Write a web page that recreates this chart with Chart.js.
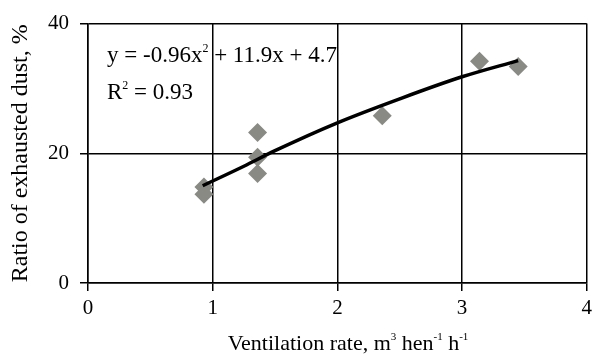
<!DOCTYPE html>
<html>
<head>
<meta charset="utf-8">
<script src="https://cdn.jsdelivr.net/npm/chart.js@4.4.0/dist/chart.umd.min.js"></script>
<style>
    html, body { margin: 0; padding: 0; background: #fff; }
    #wrap { width: 597px; height: 356px; }
</style>
</head>
<body>
<div id="wrap"><canvas id="dustChart"></canvas></div>
<script>
// measured points
const ventRate = [0.93, 0.93, 1.36, 1.36, 1.36, 2.36, 3.14, 3.45];
const dustRatio = [14.8, 13.7, 23.2, 19.4, 16.9, 25.8, 34.2, 33.4];

// trend line
const fitRate = [0.92, 1.25, 1.5, 2.0, 2.5, 3.0, 3.45];
const fitRatio = [15.0, 18.0, 20.4, 24.7, 28.4, 31.8, 34.3];

const xTickValues = [0, 1, 2, 3, 4];
const yTickValues = [0, 20, 40];

const equationParts = [['y = -0.96x', false], ['2', true], [' + 11.9x + 4.7', false]];
const rSquaredParts = [['R', false], ['2', true], [' = 0.93', false]];
const xTitleParts = [['Ventilation rate, m', false], ['3', true], [' hen', false], ['-1', true], [' h', false], ['-1', true]];
const yTitle = 'Ratio of exhausted dust, %';

const serif = '"Liberation Serif", "Times New Roman", serif';

function drawParts(ctx, parts, x, y, size, align) {
    const supSize = Math.round(size * 0.5);
    let total = 0;
    parts.forEach(p => {
        ctx.font = (p[1] ? supSize : size) + 'px ' + serif;
        total += ctx.measureText(p[0]).width;
    });
    let cx = align === 'center' ? x - total / 2 : x;
    parts.forEach(p => {
        ctx.font = (p[1] ? supSize : size) + 'px ' + serif;
        ctx.fillText(p[0], cx, p[1] ? y - size * 0.45 : y);
        cx += ctx.measureText(p[0]).width;
    });
}

const textPlugin = {
    id: 'textPlugin',
    afterDraw(chart) {
        const ctx = chart.ctx;
        ctx.save();
        ctx.fillStyle = '#000';
        ctx.textBaseline = 'alphabetic';
        ctx.textAlign = 'left';
        drawParts(ctx, equationParts, 107, 62, 23);
        drawParts(ctx, rSquaredParts, 107, 99, 23);
        const area = chart.chartArea;
        drawParts(ctx, xTitleParts, 348, 350, 22, 'center');
        ctx.restore();
    }
};

const ctx = document.getElementById('dustChart').getContext('2d');
new Chart(ctx, {
    type: 'scatter',
    data: {
        datasets: [
            {
                type: 'line',
                label: 'Fit',
                data: fitRate.map((x, i) => ({ x: x, y: fitRatio[i] })),
                borderColor: '#000',
                borderWidth: 3.5,
                pointRadius: 0,
                fill: false,
                cubicInterpolationMode: 'monotone',
                order: 0
            },
            {
                label: 'Measured',
                data: ventRate.map((x, i) => ({ x: x, y: dustRatio[i] })),
                pointStyle: 'rectRot',
                pointRadius: 9.5,
                pointHoverRadius: 9.5,
                backgroundColor: '#8a8a84',
                borderColor: '#8a8a84',
                borderWidth: 0,
                order: 1
            }
        ]
    },
    options: {
        responsive: true,
        maintainAspectRatio: false,
        animation: false,
        events: [],
        layout: { padding: { top: 21, right: 6, left: 0, bottom: 0 } },
        plugins: {
            legend: { display: false },
            tooltip: { enabled: false }
        },
        scales: {
            x: {
                type: 'linear',
                min: 0,
                max: 4,
                afterBuildTicks: axis => { axis.ticks = xTickValues.map(v => ({ value: v })); },
                afterFit: axis => { axis.height = 73; },
                grid: { color: '#000', lineWidth: 1.5, tickLength: 8 },
                border: { color: '#000', width: 1.5 },
                ticks: {
                    color: '#000',
                    padding: 5,
                    maxRotation: 0,
                    font: { family: serif, size: 21 }
                }
            },
            y: {
                min: 0,
                max: 40,
                afterBuildTicks: axis => { axis.ticks = yTickValues.map(v => ({ value: v })); },
                afterFit: axis => { axis.width = 88; },
                grid: { color: '#000', lineWidth: 1.5, tickLength: 8 },
                border: { color: '#000', width: 1.5 },
                ticks: {
                    color: '#000',
                    padding: 11,
                    font: { family: serif, size: 21 }
                },
                title: {
                    display: true,
                    text: yTitle,
                    color: '#000',
                    padding: { top: 6, bottom: 0 },
                    font: { family: serif, size: 24 }
                }
            }
        }
    },
    plugins: [textPlugin]
});
</script>
</body>
</html>
